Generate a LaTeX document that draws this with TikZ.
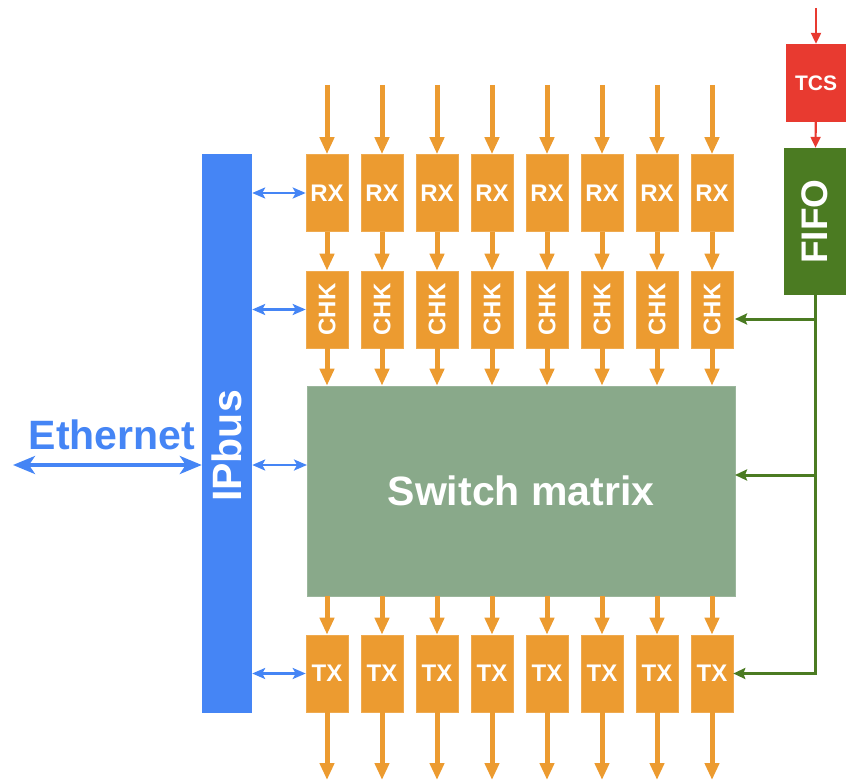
\documentclass[tikz,border=0pt]{standalone}
\usepackage{fontspec}
\setmainfont{Liberation Sans}
\usetikzlibrary{arrows.meta}
\definecolor{boxorange}{HTML}{EC9B30}
\definecolor{busblue}{HTML}{4585F5}
\definecolor{matrixgreen}{HTML}{89A98A}
\definecolor{fifogreen}{HTML}{4B7B22}
\definecolor{tcsred}{HTML}{E83A30}
\begin{document}
\begin{tikzpicture}[x=1pt,y=-1pt,
  blk/.style={rectangle, fill=boxorange, draw=boxorange!85!white, line width=0.6pt,
    minimum width=42pt, minimum height=77pt, inner sep=0pt, text=white,
    font=\bfseries\fontsize{24}{24}\selectfont},
  bigtext/.style={font=\bfseries\fontsize{41}{41}\selectfont, inner sep=0pt},
  oarrow/.style={draw=boxorange, line width=5pt, -{Triangle[length=17pt,width=14pt]}},
  barrow/.style={draw=busblue, line width=2.5pt, {Stealth[length=13pt,width=11pt,inset=3pt]}-{Stealth[length=13pt,width=11pt,inset=3pt]}},
  etharrow/.style={draw=busblue, line width=3.5pt, {Stealth[length=22pt,width=18pt,inset=6pt]}-{Stealth[length=22pt,width=18pt,inset=6pt]}},
  garrow/.style={draw=fifogreen, line width=3pt, -{Stealth[length=12pt,width=11pt,inset=2pt]}},
  rarrow/.style={draw=tcsred, line width=2.2pt, -{Triangle[length=11pt,width=10pt]}}
]
\useasboundingbox (0,0) rectangle (846,781);

% IPbus bar and its label
\node[rectangle, fill=busblue, minimum width=50pt, minimum height=559pt, inner sep=0pt] (ipbus) at (227,433.5) {};
\node[bigtext, text=white, rotate=90] (ipbuslabel) at (227,446) {IPbus};

% Ethernet link
\node[bigtext, text=busblue] (ethlabel) at (112,435) {Ethernet};
\coordinate (eth) at (13,465);
\draw[etharrow] (eth) -- (ipbus.west |- eth);

% Switch matrix
\node[rectangle, fill=matrixgreen, draw=matrixgreen!85!white, line width=0.6pt,
  minimum width=428pt, minimum height=210pt, inner sep=0pt, text=white] (sw) at (521,491)
  {\bfseries\fontsize{41}{41}\selectfont Switch matrix};

% TCS and FIFO
\node[rectangle, fill=tcsred, minimum width=60pt, minimum height=78pt, inner sep=0pt, text=white,
  font=\bfseries\fontsize{21}{21}\selectfont] (tcs) at (816,83) {TCS};
\node[rectangle, fill=fifogreen, minimum width=62pt, minimum height=147pt, inner sep=0pt] (fifo) at (815,221.5) {};
\node[inner sep=0pt, text=white, rotate=90, font=\bfseries\fontsize{37}{37}\selectfont] (fifolabel) at (815,221.5) {FIFO};
\coordinate (tcsin) at (816,8);
\draw[rarrow] (tcsin) -- (tcs);
\draw[rarrow] (tcs) -- (fifo);

% Eight lanes: RX -> CHK -> switch -> TX
\foreach \i in {1,...,8}{
  \pgfmathsetmacro{\x}{327+55*(\i-1)}
  \node[blk] (rx\i) at (\x,193) {RX};
  \node[blk, minimum height=77pt] (chk\i) at (\x,309.5) {\rotatebox{90}{CHK}};
  \node[blk] (tx\i) at (\x,673.5) {TX};
  \coordinate (in\i) at (\x,85);
  \coordinate (out\i) at (\x,780);
  \draw[oarrow] (in\i) -- (rx\i);
  \draw[oarrow] (rx\i) -- (chk\i);
  \draw[oarrow] (chk\i.south) -- (chk\i.south |- sw.north);
  \draw[oarrow] (tx\i.north |- sw.south) -- (tx\i);
  \draw[oarrow] (tx\i) -- (out\i);
}

% IPbus register access
\coordinate (swport) at (307,465);
\draw[barrow] (ipbus.east |- rx1.west) -- (rx1.west);
\draw[barrow] (ipbus.east |- chk1.west) -- (chk1.west);
\draw[barrow] (ipbus.east |- swport) -- (swport);
\draw[barrow] (ipbus.east |- tx1.west) -- (tx1.west);

% Control lines from FIFO
\coordinate (chkg) at (735,319);
\coordinate (swg) at (735,475);
\draw[garrow] (fifo.south) |- (tx8.east);
\draw[garrow] (fifo.south |- chkg) -- (chkg);
\draw[garrow] (fifo.south |- swg) -- (swg);
\end{tikzpicture}
\end{document}
